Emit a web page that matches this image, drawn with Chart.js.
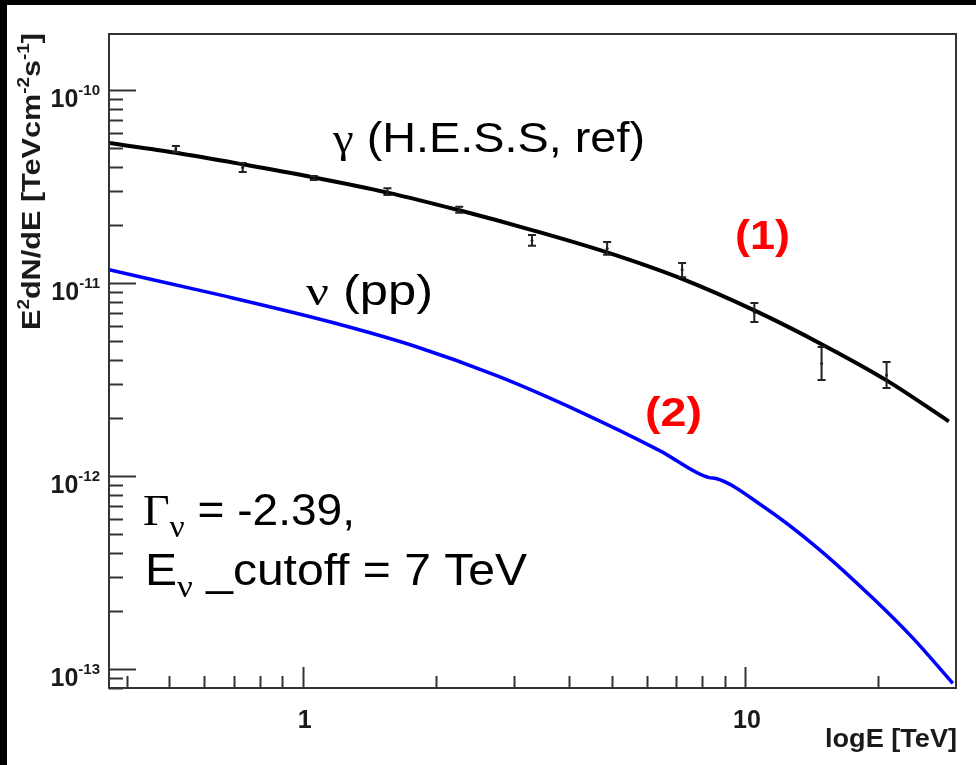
<!DOCTYPE html>
<html>
<head>
<meta charset="utf-8">
<script src="https://cdn.jsdelivr.net/npm/chart.js@4"></script>
<style>
  html, body { margin: 0; padding: 0; background: #fff; }
  canvas { display: block; }
</style>
</head>
<body>
<canvas id="myChart" width="976" height="765"></canvas>
<script>
// H.E.S.S. measured points (E in TeV, E^2 dN/dE in TeV cm^-2 s^-1)
let hessE = [0.517, 0.732, 1.06, 1.555, 2.26, 3.3, 4.88, 7.21, 10.5, 14.9, 20.9];
let hessF = [4.95e-11, 3.97e-11, 3.5e-11, 2.98e-11, 2.39e-11, 1.66e-11, 1.51e-11, 1.17e-11, 7.03e-12, 3.83e-12, 3.34e-12];
let hessLo = [4.77e-11, 3.76e-11, 3.42e-11, 2.86e-11, 2.31e-11, 1.56e-11, 1.4e-11, 1.07e-11, 6.28e-12, 3.14e-12, 2.86e-12];
let hessHi = [5.13e-11, 4.19e-11, 3.58e-11, 3.1e-11, 2.48e-11, 1.77e-11, 1.63e-11, 1.27e-11, 7.87e-12, 4.66e-12, 3.9e-12];

// gamma fit (1)
let gamE = [0.365, 0.517, 0.732, 1.06, 1.555, 2.26, 3.3, 4.88, 7.21, 10.5, 14.9, 20.9, 28.9];
let gamF = [5.31e-11, 4.73e-11, 4.12e-11, 3.52e-11, 2.94e-11, 2.38e-11, 1.88e-11, 1.44e-11, 1.05e-11, 7.21e-12, 4.82e-12, 3.13e-12, 1.92e-12];

// neutrino pp (2)
let nuE = [0.365, 0.653, 1.157, 1.78, 2.755, 4.24, 6.43, 8.3, 8.6, 10.98, 14.62, 19.45, 24.0, 29.5];
let nuF = [1.17e-11, 8.65e-12, 6.28e-12, 4.73e-12, 3.3e-12, 2.15e-12, 1.35e-12, 9.8e-13, 9.7e-13, 6.97e-13, 4.22e-13, 2.33e-13, 1.44e-13, 8.43e-14];

// axes
let xRange = [0.365, 30];
let yRange = [7.97e-14, 1.95e-10];
let xMajor = [1, 10];
let xMajorLabels = ['1', '10'];
let yDecades = [1e-10, 1e-11, 1e-12, 1e-13];
let yDecadeExp = ['-10', '-11', '-12', '-13'];

const SANS = '"Liberation Sans", Arial, sans-serif';
const SERIF = '"Liberation Serif", "DejaVu Serif", serif';

function toXY(xs, ys) {
  return xs.map((v, i) => ({ x: v, y: ys[i] }));
}

// draw a run of text pieces, optionally squeezed/stretched to a width
function richText(ctx, segs, x, y, width, align, rotate) {
  ctx.save();
  let total = 0;
  segs.forEach(s => { ctx.font = s.font; s.w = ctx.measureText(s.text).width; total += s.w; });
  let sx = width ? width / total : 1;
  ctx.translate(x, y);
  if (rotate) ctx.rotate(-Math.PI / 2);
  if (align === 'right') ctx.translate(-total * sx, 0);
  if (align === 'center') ctx.translate(-total * sx / 2, 0);
  ctx.scale(sx, 1);
  ctx.textBaseline = 'alphabetic';
  ctx.textAlign = 'left';
  let cx = 0;
  segs.forEach(s => {
    ctx.font = s.font;
    ctx.fillStyle = s.color || '#111';
    ctx.fillText(s.text, cx, s.dy || 0);
    cx += s.w;
  });
  ctx.restore();
}

const rootStyle = {
  id: 'rootStyle',
  beforeDraw(chart) {
    const c = chart.ctx;
    c.save();
    c.fillStyle = '#fff';
    c.fillRect(0, 0, chart.width, chart.height);
    c.fillStyle = '#000';
    c.fillRect(0, 0, chart.width, 5);
    c.fillRect(0, 0, 7, chart.height);
    c.restore();
  },
  afterDatasetsDraw(chart) {
    const { ctx, chartArea: a, scales: { x, y } } = chart;
    ctx.save();

    // error bars
    ctx.strokeStyle = '#222';
    ctx.lineWidth = 2;
    hessE.forEach((e, i) => {
      let px = x.getPixelForValue(e);
      let y1 = y.getPixelForValue(hessLo[i]);
      let y2 = y.getPixelForValue(hessHi[i]);
      ctx.beginPath();
      ctx.moveTo(px, y1); ctx.lineTo(px, y2);
      ctx.moveTo(px - 4, y1); ctx.lineTo(px + 4, y1);
      ctx.moveTo(px - 4, y2); ctx.lineTo(px + 4, y2);
      ctx.stroke();
    });

    // frame
    ctx.strokeStyle = '#333';
    ctx.lineWidth = 2;
    ctx.strokeRect(a.left, a.top, a.right - a.left, a.bottom - a.top);

    // y ticks (inside)
    [1e-14].concat(yDecades).forEach(d => {
      for (let m = 1; m <= 9; m++) {
        let v = m * d;
        if (v < y.min || v > y.max) continue;
        let py = Math.round(y.getPixelForValue(v)) + 0.5;
        ctx.beginPath();
        ctx.moveTo(a.left, py);
        ctx.lineTo(a.left + (m === 1 ? 27 : 14), py);
        ctx.stroke();
      }
    });

    // x ticks (inside)
    [0.1, 1, 10].forEach(d => {
      for (let m = 1; m <= 9; m++) {
        let v = m * d;
        if (v < x.min || v >= x.max) continue;
        let px = Math.round(x.getPixelForValue(v)) + 0.5;
        ctx.beginPath();
        ctx.moveTo(px, a.bottom);
        ctx.lineTo(px, a.bottom - (m === 1 ? 21 : 12));
        ctx.stroke();
      }
    });

    // y tick labels
    yDecades.forEach((d, i) => {
      let py = y.getPixelForValue(d);
      richText(ctx, [
        { text: '10', font: 'bold 25px ' + SANS, color: '#1a1a1a' },
        { text: yDecadeExp[i], font: 'bold 15px ' + SANS, color: '#1a1a1a', dy: -12 }
      ], a.left - 9, py + 17, null, 'right');
    });

    // x tick labels
    xMajor.forEach((v, i) => {
      let px = x.getPixelForValue(v);
      richText(ctx, [{ text: xMajorLabels[i], font: 'bold 25px ' + SANS, color: '#1a1a1a' }],
        px + 2, 728, null, 'center');
    });

    // axis titles
    richText(ctx, [{ text: 'logE [TeV]', font: 'bold 25px ' + SANS, color: '#1a1a1a' }],
      825, 747, 132);
    richText(ctx, [
      { text: 'E', font: 'bold 26px ' + SANS, color: '#1a1a1a' },
      { text: '2', font: 'bold 16px ' + SANS, color: '#1a1a1a', dy: -11 },
      { text: 'dN/dE [TeVcm', font: 'bold 26px ' + SANS, color: '#1a1a1a' },
      { text: '-2', font: 'bold 16px ' + SANS, color: '#1a1a1a', dy: -11 },
      { text: 's', font: 'bold 26px ' + SANS, color: '#1a1a1a' },
      { text: '-1', font: 'bold 16px ' + SANS, color: '#1a1a1a', dy: -11 },
      { text: ']', font: 'bold 26px ' + SANS, color: '#1a1a1a' }
    ], 40, 330, 297, null, true);

    // annotations
    richText(ctx, [
      { text: 'γ', font: '42px ' + SERIF, color: '#000' },
      { text: ' (H.E.S.S, ref)', font: '42px ' + SANS, color: '#000' }
    ], 333, 152, 312);
    richText(ctx, [
      { text: 'ν', font: '42px ' + SERIF, color: '#000' },
      { text: ' (pp)', font: '42px ' + SANS, color: '#000' }
    ], 306, 305, 127);
    richText(ctx, [{ text: '(1)', font: 'bold 40px ' + SANS, color: '#ff0000' }], 735, 249, 55);
    richText(ctx, [{ text: '(2)', font: 'bold 40px ' + SANS, color: '#ff0000' }], 645, 426, 57);
    richText(ctx, [
      { text: 'Γ', font: '44px ' + SERIF, color: '#000' },
      { text: 'ν', font: '32px ' + SERIF, color: '#000', dy: 12 },
      { text: ' = -2.39,', font: '44px ' + SANS, color: '#000' }
    ], 143, 525, 212);
    richText(ctx, [
      { text: 'E', font: '44px ' + SANS, color: '#000' },
      { text: 'ν', font: '32px ' + SERIF, color: '#000', dy: 12 },
      { text: ' _cutoff = 7 TeV', font: '44px ' + SANS, color: '#000' }
    ], 145, 585, 382);

    ctx.restore();
  }
};

let ctx = document.getElementById('myChart').getContext('2d');

let myChart = new Chart(ctx, {
  type: 'line',
  data: {
    datasets: [{
      label: 'gamma fit',
      data: toXY(gamE, gamF),
      borderColor: '#000',
      borderWidth: 4,
      pointRadius: 0,
      cubicInterpolationMode: 'monotone'
    }, {
      label: 'nu pp',
      data: toXY(nuE, nuF),
      borderColor: '#0000ff',
      borderWidth: 3.5,
      pointRadius: 0,
      cubicInterpolationMode: 'monotone'
    }, {
      label: 'H.E.S.S.',
      data: toXY(hessE, hessF),
      showLine: false,
      pointRadius: 1.5,
      pointBackgroundColor: '#222',
      pointBorderWidth: 0
    }]
  },
  plugins: [rootStyle],
  options: {
    responsive: false,
    animation: false,
    layout: {
      padding: { left: 109, top: 34, right: 20, bottom: 77 }
    },
    scales: {
      x: { type: 'logarithmic', display: false, min: xRange[0], max: xRange[1] },
      y: { type: 'logarithmic', display: false, min: yRange[0], max: yRange[1] }
    },
    plugins: {
      legend: { display: false },
      tooltip: { enabled: false }
    }
  }
});
</script>
</body>
</html>
